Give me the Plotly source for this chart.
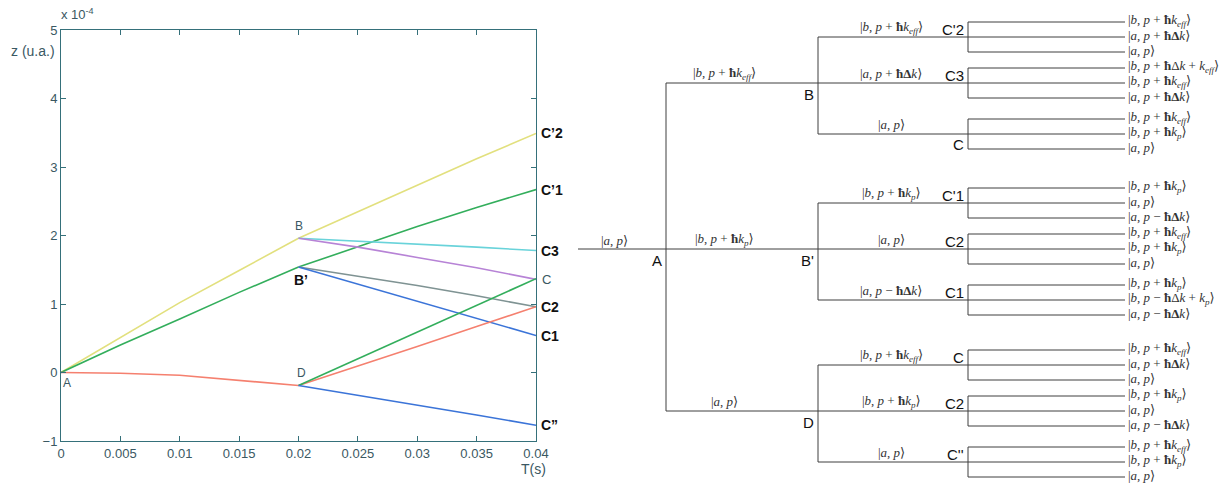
import plotly.graph_objects as go

# ---------------- data: left chart (z in units of 1e-4) ----------------
t_first = [0, 0.005, 0.01, 0.015, 0.02]
t_second = [0.02, 0.025, 0.03, 0.035, 0.04]

yellow_A_B = [0, 0.51, 1.02, 1.49, 1.96]
yellow_B_C2p = [1.96, 2.35, 2.73, 3.12, 3.49]
green_A_Bp = [0, 0.40, 0.78, 1.17, 1.54]
green_Bp_C1p = [1.54, 1.84, 2.13, 2.41, 2.67]
cyan_B_C3 = [1.96, 1.92, 1.88, 1.83, 1.78]
purple_B_C = [1.96, 1.83, 1.68, 1.53, 1.36]
gray_Bp_C2 = [1.54, 1.41, 1.27, 1.12, 0.96]
blue_Bp_C1 = [1.54, 1.29, 1.04, 0.79, 0.54]
red_A_D = [0, -0.01, -0.04, -0.11, -0.19]
red_D_C2 = [-0.19, 0.09, 0.38, 0.67, 0.96]
green_D_C = [-0.19, 0.20, 0.59, 0.98, 1.37]
blue_D_Cpp = [-0.19, -0.33, -0.47, -0.62, -0.77]

x_tickvals = [0, 0.005, 0.01, 0.015, 0.02, 0.025, 0.03, 0.035, 0.04]
x_ticktext = ["0", "0.005", "0.01", "0.015", "0.02", "0.025", "0.03", "0.035", "0.04"]
y_tickvals = [-1, 0, 1, 2, 3, 4, 5]

# ---------------- data: tree diagram ----------------
K = {
    "a": "|<i>a</i>, <i>p</i>⟩",
    "b_eff": "|<i>b</i>, <i>p</i> + <b>ħ</b><i>k</i><sub><i>eff</i></sub>⟩",
    "b_p": "|<i>b</i>, <i>p</i> + <b>ħ</b><i>k</i><sub><i>p</i></sub>⟩",
    "a_pdk": "|<i>a</i>, <i>p</i> + <b>ħΔ</b><i>k</i>⟩",
    "a_mdk": "|<i>a</i>, <i>p</i> − <b>ħΔ</b><i>k</i>⟩",
    "b_dk_eff": "|<i>b</i>, <i>p</i> + <b>ħ</b>Δ<i>k</i> + <i>k</i><sub><i>eff</i></sub>⟩",
    "b_mdk_p": "|<i>b</i>, <i>p</i> − <b>ħ</b>Δ<i>k</i> + <i>k</i><sub><i>p</i></sub>⟩",
}
root_ket = "a"
level1_nodes = ["B", "B'", "D"]
level1_kets = ["b_eff", "b_p", "a"]
level2_nodes = {"B": ["C'2", "C3", "C"], "B'": ["C'1", "C2", "C1"], "D": ["C", "C2", "C''"]}
level2_kets = {"B": ["b_eff", "a_pdk", "a"], "B'": ["b_p", "a", "a_mdk"], "D": ["b_eff", "b_p", "a"]}
leaf_kets = {
    ("B", 0): ["b_eff", "a_pdk", "a"],
    ("B", 1): ["b_dk_eff", "b_eff", "a_pdk"],
    ("B", 2): ["b_eff", "b_p", "a"],
    ("B'", 0): ["b_p", "a", "a_mdk"],
    ("B'", 1): ["b_eff", "b_p", "a"],
    ("B'", 2): ["b_p", "b_mdk_p", "a_mdk"],
    ("D", 0): ["b_eff", "a_pdk", "a"],
    ("D", 1): ["b_p", "a", "a_mdk"],
    ("D", 2): ["b_eff", "b_p", "a"],
}

# ---------------- layout (pixels) ----------------
W, H = 1228, 487
PX0, PX1, PY0, PY1 = 61, 536, 30, 441
X_ROOT, X_A, X_L1, X_L2, X_LEAF = 578, 666, 818, 968, 1125
Y_L1 = [83, 249, 411]
OFF_L2 = [-46, 0, 51]
OFF_LEAF = [-15, 0, 15]

fig = go.Figure()

YEL, GRN, CYA, PUR, GRY, BLU, RED = "#E2E07E", "#33AE5C", "#69D3DA", "#B783D6", "#7F9393", "#3B74D8", "#F5806F"
segments = [
    (t_first, yellow_A_B, YEL), (t_second, yellow_B_C2p, YEL),
    (t_first, green_A_Bp, GRN), (t_second, green_Bp_C1p, GRN),
    (t_second, cyan_B_C3, CYA), (t_second, purple_B_C, PUR),
    (t_second, gray_Bp_C2, GRY), (t_second, blue_Bp_C1, BLU),
    (t_first, red_A_D, RED), (t_second, red_D_C2, RED),
    (t_second, green_D_C, GRN), (t_second, blue_D_Cpp, BLU),
]
for xs, ys, c in segments:
    fig.add_trace(go.Scatter(x=xs, y=ys, mode="lines", line=dict(color=c, width=1.6),
                             showlegend=False, hoverinfo="skip", xaxis="x", yaxis="y"))

AX = "#35707A"
TXT = "#3A5862"
ann = []
def a1(text, x, y, xs=0, ys=0, color=TXT, size=12, bold=False, xanchor="center"):
    ann.append(dict(text=("<b>%s</b>" % text) if bold else text, x=x, y=y, xref="x", yref="y",
                    xshift=xs, yshift=ys, showarrow=False, xanchor=xanchor,
                    font=dict(family="Liberation Sans, Arial", size=size, color=color)))

a1("A", t_first[0], red_A_D[0], xs=6, ys=-10)
a1("B", t_first[-1], yellow_A_B[-1], ys=12)
a1("B’", t_first[-1], green_A_Bp[-1], xs=2, ys=-13, color="#111", size=14, bold=True)
a1("D", t_second[0], red_D_C2[0], xs=3, ys=13)
ends = [("C’2", yellow_B_C2p), ("C’1", green_Bp_C1p), ("C3", cyan_B_C3),
        ("C2", gray_Bp_C2), ("C1", blue_Bp_C1), ("C”", blue_D_Cpp)]
for lab, arr in ends:
    a1(lab, t_second[-1], arr[-1], xs=3, color="#111", size=14, bold=True, xanchor="left")
a1("C", t_second[-1], purple_B_C[-1], xs=4, color=TXT, size=13, xanchor="left")

def paper(px, py):
    return px / W, 1 - py / H
for text, px, py, sz in [("z (u.a.)", 33, 51, 14), ("x 10<sup>-4</sup>", 77, 14, 13), ("T(s)", 533, 469, 14)]:
    x, y = paper(px, py)
    ann.append(dict(text=text, x=x, y=y, xref="paper", yref="paper", showarrow=False,
                    xanchor="center", yanchor="middle",
                    font=dict(family="Liberation Sans, Arial", size=sz, color=TXT)))

# ---------------- tree ----------------
lx, ly = [], []
def seg(x0, y0, x1, y1):
    lx.extend([x0, x1, None]); ly.extend([y0, y1, None])

KF = dict(family="Liberation Serif, DejaVu Serif", size=13, color="#333")
NF = dict(family="Liberation Sans, Arial", size=15, color="#111")
def a2(text, x, y, font, xanchor="center", yanchor="middle"):
    ann.append(dict(text=text, x=x, y=y, xref="x2", yref="y2", showarrow=False,
                    xanchor=xanchor, yanchor=yanchor, font=font))

y_root = Y_L1[1]
seg(X_ROOT, y_root, X_A, y_root)
a2(K[root_ket], (X_ROOT + X_A) / 2 - 8, y_root - 9, KF)
a2("A", X_A - 2, y_root + 11, NF, xanchor="right")
seg(X_A, Y_L1[0], X_A, Y_L1[-1])
label_above_l2 = {"B": [True, True, False], "B'": [True, True, True], "D": [True, True, True]}
for i, node in enumerate(level1_nodes):
    y1 = Y_L1[i]
    seg(X_A, y1, X_L1, y1)
    a2(K[level1_kets[i]], (X_A + X_L1) / 2 - 18, y1 - 10, KF)
    a2(node, X_L1 - 2, y1 + 11, NF, xanchor="right")
    ys2 = [y1 + o for o in OFF_L2]
    seg(X_L1, ys2[0], X_L1, ys2[-1])
    for j, y2 in enumerate(ys2):
        seg(X_L1, y2, X_L2, y2)
        a2(K[level2_kets[node][j]], (X_L1 + X_L2) / 2 - 2, y2 - 10, KF)
        above = label_above_l2[node][j]
        a2(level2_nodes[node][j], X_L2 - 2, y2 - 8 if above else y2 + 10, NF, xanchor="right")
        ys3 = [y2 + o for o in OFF_LEAF]
        seg(X_L2, ys3[0], X_L2, ys3[-1])
        for k, y3 in enumerate(ys3):
            seg(X_L2, y3, X_LEAF, y3)
            a2(K[leaf_kets[(node, j)][k]], X_LEAF + 1, y3 - 2, KF, xanchor="left")

fig.add_trace(go.Scatter(x=lx, y=ly, mode="lines", line=dict(color="#3f3f3f", width=1),
                         showlegend=False, hoverinfo="skip", xaxis="x2", yaxis="y2"))

fig.update_layout(
    width=W, height=H, margin=dict(l=0, r=0, t=0, b=0, autoexpand=False),
    paper_bgcolor="white", plot_bgcolor="rgba(0,0,0,0)",
    showlegend=False, annotations=ann,
    xaxis=dict(domain=[PX0 / W, PX1 / W], range=[0, 0.04], tickvals=x_tickvals, ticktext=x_ticktext,
               showgrid=False, zeroline=False, showline=True, linecolor=AX, linewidth=1, mirror="ticks",
               ticks="inside", ticklen=5, tickcolor=AX, anchor="y", automargin=False,
               tickfont=dict(family="Liberation Sans, Arial", size=13, color=TXT)),
    yaxis=dict(domain=[1 - PY1 / H, 1 - PY0 / H], range=[-1, 5], tickvals=y_tickvals,
               showgrid=False, zeroline=False, showline=True, linecolor=AX, linewidth=1, mirror="ticks",
               ticks="inside", ticklen=5, tickcolor=AX, anchor="x", automargin=False,
               tickfont=dict(family="Liberation Sans, Arial", size=13, color=TXT)),
    xaxis2=dict(domain=[0, 1], range=[0, W], visible=False, anchor="y2", automargin=False),
    yaxis2=dict(domain=[0, 1], range=[H, 0], visible=False, anchor="x2", automargin=False),
)
fig.write_html("out.html", config={"displayModeBar": False},
               post_script="document.body.style.margin='0';document.body.style.overflow='hidden';")
